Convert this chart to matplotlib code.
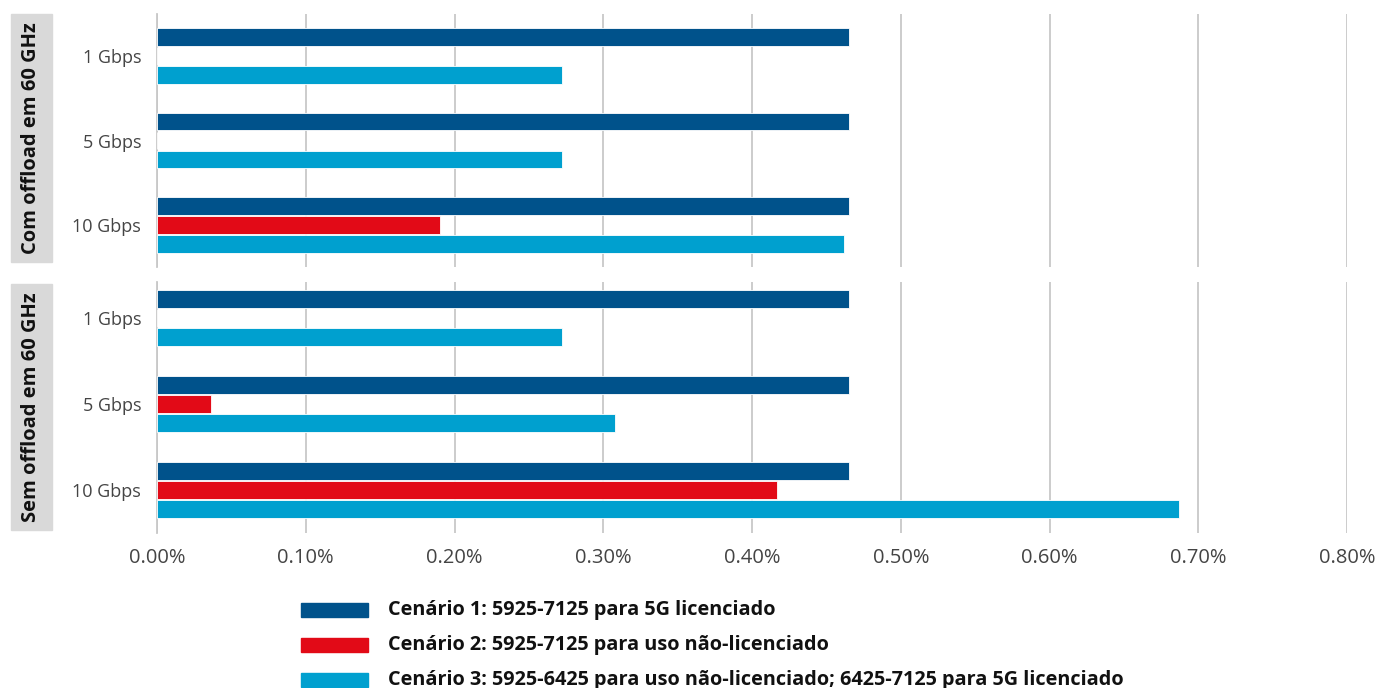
import matplotlib
matplotlib.use("Agg")
import matplotlib.pyplot as plt
from matplotlib.patches import Rectangle
from matplotlib.ticker import FuncFormatter

plt.rcParams['font.family'] = ['Open Sans', 'DejaVu Sans']

categories = ['1 Gbps', '5 Gbps', '10 Gbps']
panels = ['Com offload em 60 GHz', 'Sem offload em 60 GHz']

# values in percent
com_c1 = [0.465, 0.465, 0.465]
com_c2 = [0.0, 0.0, 0.19]
com_c3 = [0.272, 0.272, 0.462]

sem_c1 = [0.465, 0.465, 0.465]
sem_c2 = [0.0, 0.036, 0.417]
sem_c3 = [0.272, 0.308, 0.687]

scenarios = ['Cenário 1: 5925-7125 para 5G licenciado',
             'Cenário 2: 5925-7125 para uso não-licenciado',
             'Cenário 3: 5925-6425 para uso não-licenciado; 6425-7125 para 5G licenciado']
colors = ['#00528b', '#e20a17', '#00a0cf']

W, H = 1375, 688
fig = plt.figure(figsize=(W / 100, H / 100), dpi=100)

def fx(px):
    return px / W

def fy(py):
    return 1 - py / H

left, right = 157, 1347
ax_top = fig.add_axes([fx(left), fy(267), fx(right - left), (267 - 14) / H])
ax_bot = fig.add_axes([fx(left), fy(533), fx(right - left), (533 - 282) / H])

data = [(com_c1, com_c2, com_c3), (sem_c1, sem_c2, sem_c3)]
offsets = [-0.225, 0.0, 0.225]
ys = list(range(len(categories)))

for ax, series, ylim in zip([ax_top, ax_bot], data, [(2.5, -0.5), (2.5, -0.42)]):
    for vals, off, col in zip(series, offsets, colors):
        ax.barh([y + off for y in ys], vals, height=0.21, color=col,
                edgecolor='white', linewidth=0.6, zorder=3)
    ax.set_xlim(0, 0.8)
    ax.set_ylim(*ylim)
    ax.set_xticks([i / 10 for i in range(9)])
    ax.grid(axis='x', color='#c8c8c8', linewidth=1.3, zorder=0)
    ax.set_yticks(ys)
    ax.set_yticklabels(categories, fontsize=13, color='#444444')
    ax.tick_params(axis='y', length=0, pad=11.5)
    ax.tick_params(axis='x', length=0)
    for s in ['top', 'right', 'bottom']:
        ax.spines[s].set_visible(False)
    ax.spines['left'].set_color('#c8c8c8')
    ax.spines['left'].set_linewidth(1.3)

ax_top.set_xticklabels([])
ax_bot.xaxis.set_major_formatter(FuncFormatter(lambda v, p: f'{v:.2f}%'))
ax_bot.tick_params(axis='x', labelsize=14.5, labelcolor='#444444', pad=10.5)

# grey side boxes with the panel titles
for title, (y0, y1) in zip(panels, [(14, 262), (284, 530)]):
    fig.patches.append(Rectangle((fx(11), fy(y1)), fx(41), (y1 - y0) / H,
                                 transform=fig.transFigure, color='#d9d9d9', zorder=0))
    fig.text(fx(31.5), fy((y0 + y1) / 2), title, rotation=90, ha='center', va='center',
             fontsize=14.5, fontweight='bold', color='#111111')

# legend
for i, (label, col) in enumerate(zip(scenarios, colors)):
    yc = 610 + i * 35
    fig.patches.append(Rectangle((fx(301), fy(yc + 7)), fx(67), 14 / H,
                                 transform=fig.transFigure, color=col))
    fig.text(fx(388), fy(yc), label, ha='left', va='center',
             fontsize=14.3, fontweight='bold', color='#111111')

fig.savefig('out.png', dpi=100)
